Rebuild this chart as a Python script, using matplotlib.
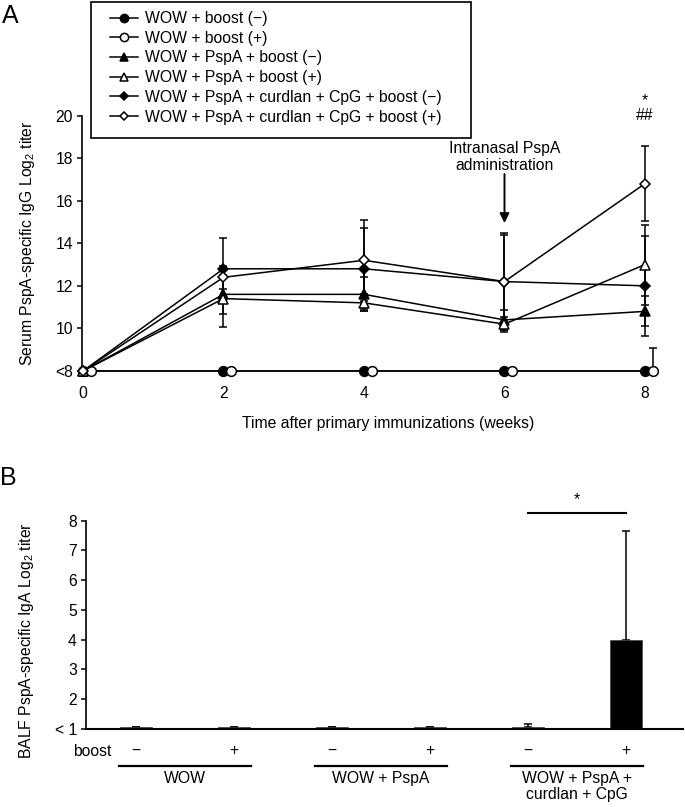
import numpy as np
import matplotlib
matplotlib.use("Agg")
import matplotlib.pyplot as plt
import matplotlib.transforms as mtransforms
from matplotlib.lines import Line2D
from matplotlib.patches import Rectangle

plt.rcParams['font.family'] = ['Liberation Sans', 'DejaVu Sans']
plt.rcParams['mathtext.fontset'] = 'custom'
plt.rcParams['mathtext.rm'] = 'Liberation Sans'

FS = 11.3

# ---------------- Panel A data ----------------
weeks = [0, 2, 4, 6, 8]
week_labels = ["0", "2", "4", "6", "8"]
a_yticks = [8, 10, 12, 14, 16, 18, 20]
a_yticklabels = ["<8", "10", "12", "14", "16", "18", "20"]

series_labels = [
    "WOW + boost (\u2212)",
    "WOW + boost (+)",
    "WOW + PspA + boost (\u2212)",
    "WOW + PspA + boost (+)",
    "WOW + PspA + curdlan + CpG + boost (\u2212)",
    "WOW + PspA + curdlan + CpG + boost (+)",
]
wow_minus = [8, 8, 8, 8, 8]
wow_minus_sd = [0, 0, 0, 0, 0]
wow_plus = [8, 8, 8, 8, 8]
wow_plus_sd = [0, 0, 0, 0, 1.08]
pspa_minus = [8, 11.6, 11.6, 10.4, 10.8]
pspa_minus_sd = [0, 0.9, 0.8, 0.46, 0.7]
pspa_plus = [8, 11.4, 11.2, 10.2, 13.0]
pspa_plus_sd = [0, 1.33, 0.4, 0.35, 1.88]
cur_minus = [8, 12.8, 12.8, 12.2, 12.0]
cur_minus_sd = [0, 1.45, 1.9, 2.2, 2.34]
cur_plus = [8, 12.4, 13.2, 12.2, 16.8]
cur_plus_sd = [0, 0.55, 1.9, 2.27, 1.77]

# ---------------- Panel B data ----------------
b_groups = ["WOW", "WOW + PspA", "WOW + PspA +\ncurdlan + CpG"]
b_boost = ["\u2212", "+", "\u2212", "+", "\u2212", "+"]
b_means = [1.07, 1.07, 1.07, 1.07, 1.07, 4.0]
b_sd = [0, 0, 0, 0, 0.1, 3.66]
b_yticks = [1, 2, 3, 4, 5, 6, 7, 8]
b_yticklabels = ["< 1", "2", "3", "4", "5", "6", "7", "8"]

W, H = 685, 807
fig = plt.figure(figsize=(W / 100, H / 100), dpi=100)

def fx(px):
    return px / W

def fy(py):
    return 1 - py / H

# ---------------- Panel A ----------------
axA = fig.add_axes([fx(82), fy(371), fx(676.6) - fx(82), fy(115.5) - fy(371)])
axA.set_xlim(-0.014, 8.45)
axA.set_ylim(8, 20)

styles = [
    dict(marker='o', mfc='black', ms=7),
    dict(marker='o', mfc='white', ms=7),
    dict(marker='^', mfc='black', ms=6.5),
    dict(marker='^', mfc='white', ms=6.5),
    dict(marker='D', mfc='black', ms=5.2),
    dict(marker='D', mfc='white', ms=5.2),
]
means = [wow_minus, wow_plus, pspa_minus, pspa_plus, cur_minus, cur_plus]
sds = [wow_minus_sd, wow_plus_sd, pspa_minus_sd, pspa_plus_sd, cur_minus_sd, cur_plus_sd]
offset = mtransforms.offset_copy(axA.transData, fig=fig, x=7.7, y=0, units='dots')
handles = []
for i, (m, s, st) in enumerate(zip(means, sds, styles)):
    m = np.array(m, float)
    s = np.array(s, float)
    tr = offset if i == 1 else axA.transData
    lower = np.minimum(s, m - 8)
    axA.errorbar(weeks, m, yerr=[lower, s], fmt='none', ecolor='black',
                 elinewidth=1.1, capsize=2.6, capthick=1.1, transform=tr,
                 clip_on=False, zorder=2)
    ln, = axA.plot(weeks, m, color='black', lw=1.1, mec='black', mew=1.1,
                   transform=tr, clip_on=False, zorder=3 + (i % 2), **st)
    handles.append(ln)

for sp in ['top', 'right', 'bottom']:
    axA.spines[sp].set_visible(False)
axA.spines['left'].set_linewidth(1.2)
axA.set_yticks(a_yticks)
axA.set_yticklabels(a_yticklabels, fontsize=FS)
axA.set_xticks(weeks)
axA.set_xticklabels(week_labels, fontsize=FS)
axA.tick_params(axis='y', direction='out', length=3.5, width=1.1, pad=3)
axA.tick_params(axis='x', length=0, pad=11)
fig.text(fx(28), fy(243), "Serum PspA-specific IgG Log$_2$ titer", rotation=90,
         ha='center', va='center', fontsize=FS)
fig.text(fx(388), fy(424), "Time after primary immunizations (weeks)",
         ha='center', va='center', fontsize=FS)

# significance marks
axA.text(8, 20.72, "*", ha='center', va='center', fontsize=FS)
axA.text(8, 19.98, "##", ha='center', va='center', fontsize=FS)

# arrow
axA.annotate("", xy=(6, 14.95), xytext=(6, 17.25),
             arrowprops=dict(arrowstyle='-|>', color='black', lw=1.4,
                             mutation_scale=14, shrinkA=0, shrinkB=0))
axA.text(6, 18.05, "Intranasal PspA\nadministration", ha='center', va='center',
         fontsize=FS, linespacing=1.15)

# legend
fig.patches.append(Rectangle((fx(91), fy(138)), fx(471) - fx(91), fy(2) - fy(138),
                             transform=fig.transFigure, fill=False,
                             edgecolor='black', lw=1.2))
fig.legend(handles, series_labels, loc='upper left',
           bbox_to_anchor=(fx(110), fy(11)), bbox_transform=fig.transFigure,
           frameon=False, borderpad=0, borderaxespad=0, handlelength=1.8,
           handletextpad=0.45, labelspacing=0.3, fontsize=FS, markerscale=0.85)

fig.text(fx(2), fy(16), "A", fontsize=18, ha='left', va='center')

# ---------------- Panel B ----------------
axB = fig.add_axes([fx(86), fy(729), fx(683) - fx(86), fy(520.7) - fy(729)])
xb = np.arange(len(b_means))
axB.set_xlim(-0.51, 5.58)
axB.set_ylim(1, 8)
bm = np.array(b_means)
bs = np.array(b_sd)
axB.bar(xb, bm, width=0.33, color='black', edgecolor='#444444', lw=0.5, zorder=2)
axB.errorbar(xb, bm, yerr=[np.zeros_like(bs), bs], fmt='none', ecolor='black',
             elinewidth=1.1, capsize=3, capthick=1.1, zorder=1)
for sp in ['top', 'right']:
    axB.spines[sp].set_visible(False)
axB.spines['left'].set_linewidth(1.2)
axB.spines['bottom'].set_linewidth(1.5)
axB.set_yticks(b_yticks)
axB.set_yticklabels(b_yticklabels, fontsize=FS)
axB.tick_params(axis='y', direction='out', length=3.5, width=1.1, pad=3)
axB.set_xticks([])
fig.text(fx(27), fy(640), "BALF PspA-specific IgA Log$_2$ titer", rotation=90,
         ha='center', va='center', fontsize=FS)

# bracket
axB.plot([4, 5], [8.27, 8.27], color='black', lw=1.5, clip_on=False)
axB.text(4.5, 8.72, "*", ha='center', va='center', fontsize=FS)

blend = mtransforms.blended_transform_factory(axB.transData, fig.transFigure)
fig.text(fx(92), fy(752), "boost", ha='center', va='center', fontsize=FS)
for x, s in zip(xb, b_boost):
    axB.text(x, fy(750), s, transform=blend, ha='center', va='center',
             fontsize=FS, clip_on=False)
for g, name in enumerate(b_groups):
    x0, x1 = 2 * g - 0.17, 2 * g + 1 + 0.17
    axB.add_line(Line2D([x0, x1], [fy(766), fy(766)], transform=blend,
                        color='black', lw=1.6, clip_on=False))
    axB.text(2 * g + 0.5, fy(771), name, transform=blend, ha='center', va='top',
             fontsize=FS, linespacing=1.1, clip_on=False)

fig.text(fx(0), fy(478), "B", fontsize=18, ha='left', va='center')

fig.savefig("out.png", dpi=100)
